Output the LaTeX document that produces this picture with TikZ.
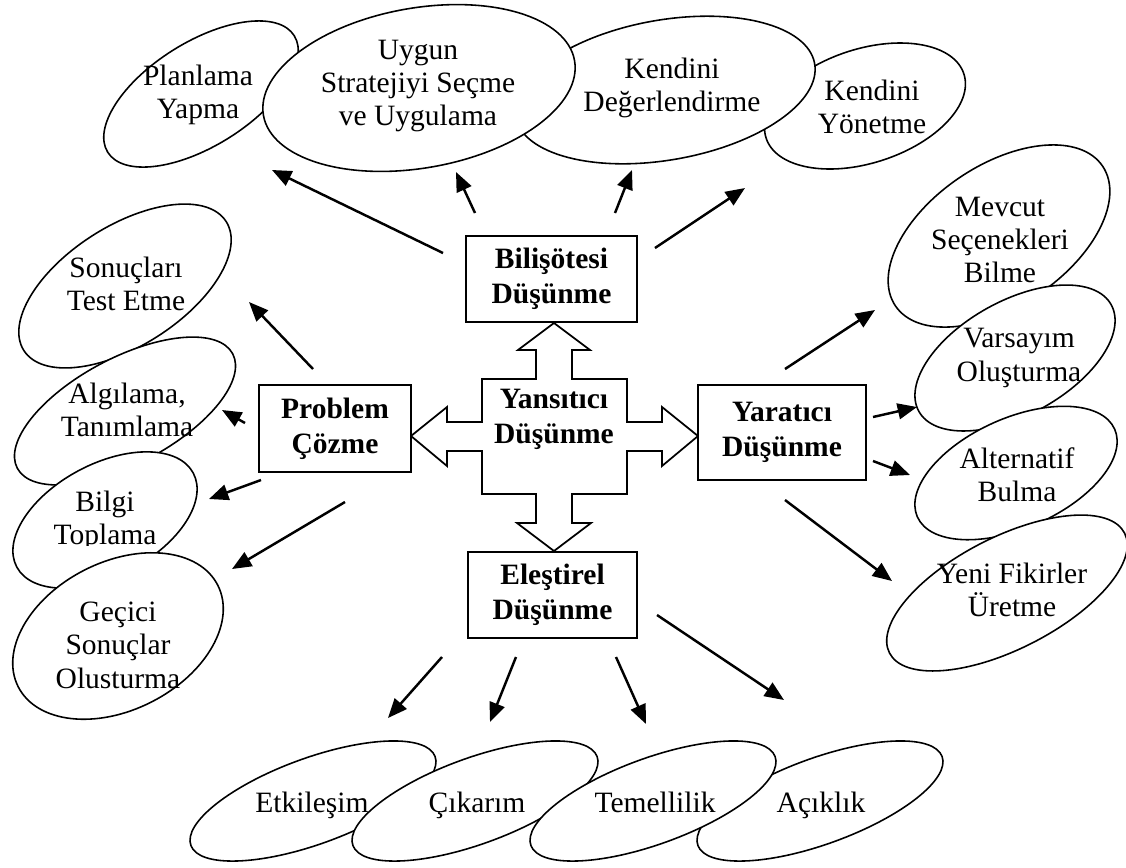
\documentclass[tikz,border=0pt]{standalone}
\usepackage{fontspec}
\setmainfont{Liberation Serif}
\usetikzlibrary{arrows.meta,shapes.geometric}
% #1 text options, #2 name, #3 centre, #4 a, #5 b, #6 angle, #7 text position, #8 text
\newcommand\myoval[8][]{%
  \node[oval, minimum width=#4*0.04cm, minimum height=#5*0.04cm, rotate=#6] (#2) at (#3) {};
  \node[otext,#1] (#2t) at (#7) {#8};
}
\begin{document}
\begin{tikzpicture}[x=0.02cm,y=-0.02cm,
  oval/.style={ellipse, draw, fill=white, line width=0.9pt, inner sep=0pt, outer sep=0pt},
  otext/.style={align=center, inner sep=0pt, font=\fontsize{16.8}{19}\selectfont},
  box/.style={draw, line width=1pt, fill=white, align=center, inner sep=0pt,
    font=\fontsize{16.8}{19.9}\selectfont\bfseries},
  arr/.style={line width=1.4pt, -{Triangle[length=11pt,width=9pt]}},
  cross/.style={draw, line width=1pt, fill=white, line join=miter}
]
\useasboundingbox (0,0) rectangle (1126,867);

% ---- top row ----
\myoval{plan}{201,94}{110}{52}{32}{198,95}{Planlama\\Yapma}
\myoval{yon}{865,106}{104}{57}{18}{872,107}{Kendini\\Yönetme}
\myoval{deg}{665,90}{152}{70}{10}{672,88}{Kendini\\Değerlendirme}
\myoval{uyg}{419,88}{158}{80}{10}{418,86}{Uygun\\Stratejiyi Seçme\\ve Uygulama}

% ---- left column ----
\myoval{son}{125,286}{120}{60}{32.5}{126,284}{Sonuçları\\Test Etme}
\myoval{alg}{125,411}{122}{53}{28}{127,410}{Algılama,\\Tanımlama}
\node[oval, minimum width=100*0.04cm, minimum height=56*0.04cm, rotate=28] (bil) at (105,520) {};
\begin{scope}
  \clip (0,400) rectangle (300,545);
  \node[otext] (bilt) at (105,521) {Bilgi\\Toplama};
\end{scope}
\myoval{gec}{118,636}{112}{74}{27}{118,645}{Geçici\\Sonuçlar\\Olusturma}

% ---- right column ----
\myoval{mev}{999,236}{125}{70.5}{34}{1000,240}{Mevcut\\Seçenekleri\\Bilme}
\myoval{var}{1015,358}{110}{57}{29}{1019,358}{Varsayım\\Oluşturma}
\myoval{alt}{1016,473}{108}{55}{24}{1017,475}{Alternatif\\Bulma}
\myoval{yen}{1007,593}{132}{56}{27}{1012,590}{Yeni Fikirler\\Üretme}

% ---- bottom row ----
\myoval[anchor=base]{etk}{313,801}{130}{43}{20}{312,812}{Etkileşim}
\myoval[anchor=base]{cik}{475,801}{130}{43}{20}{477,812}{Çıkarım}
\myoval[anchor=base]{acik}{820,801}{130}{43}{20}{821,812}{Açıklık}
\myoval[anchor=base]{tem}{653,801}{130}{43}{20}{655,812}{Temellilik}

% ---- central cross ----
\draw[cross] (554,323) -- (590,350) -- (572,350) -- (572,379) -- (627,379) -- (627,422)
  -- (662,422) -- (662,407) -- (698,436) -- (662,466) -- (662,451) -- (627,451)
  -- (627,494) -- (572,494) -- (572,523) -- (591,523) -- (554,551) -- (517,523)
  -- (536,523) -- (536,494) -- (482,494) -- (482,451) -- (447,451) -- (447,466)
  -- (411,436) -- (447,407) -- (447,422) -- (482,422) -- (482,379) -- (536,379)
  -- (536,350) -- (518,350) -- cycle;
\node[box, draw=none, fill=none] (yans) at (554,419) {Yansıtıcı\\Düşünme};

% ---- boxes ----
\node[box, minimum width=171*0.02cm, minimum height=86*0.02cm] (bili) at (551.5,279) {Bilişötesi\\Düşünme};
\node[box, minimum width=152*0.02cm, minimum height=87*0.02cm] (prob) at (335,428.5) {Problem\\Çözme};
\node[box, minimum width=168*0.02cm, minimum height=95*0.02cm] (yar) at (782,432.5) {Yaratıcı\\Düşünme};
\node[box, minimum width=169*0.02cm, minimum height=86*0.02cm] (eles) at (552.5,595) {Eleştirel\\Düşünme};

% ---- arrow end points ----
\coordinate (b1) at (443,253); \coordinate (e1) at (272,170);
\coordinate (b2) at (475,213); \coordinate (e2) at (456,172);
\coordinate (b3) at (615,213); \coordinate (e3) at (632,170);
\coordinate (b4) at (655,248); \coordinate (e4) at (745,188);
\coordinate (p1) at (313,369); \coordinate (q1) at (249,302);
\coordinate (p2) at (245,423); \coordinate (q2) at (222,410);
\coordinate (p3) at (261,480); \coordinate (q3) at (209,499);
\coordinate (p4) at (345,502); \coordinate (q4) at (232,569);
\coordinate (y1) at (785,369); \coordinate (z1) at (875,310);
\coordinate (y2) at (873,417); \coordinate (z2) at (917,407);
\coordinate (y3) at (873,461); \coordinate (z3) at (910,475);
\coordinate (y4) at (785,500); \coordinate (z4) at (892,581);
\coordinate (c1) at (442,657); \coordinate (d1) at (388,718);
\coordinate (c2) at (516,657); \coordinate (d2) at (490,722);
\coordinate (c3) at (616,657); \coordinate (d3) at (646,724);
\coordinate (c4) at (657,615); \coordinate (d4) at (784,700);

\foreach \s/\t in {b1/e1,b2/e2,b3/e3,b4/e4,p1/q1,p2/q2,p3/q3,p4/q4,
                   y1/z1,y2/z2,y3/z3,y4/z4,c1/d1,c2/d2,c3/d3,c4/d4}
  \draw[arr] (\s) -- (\t);
\end{tikzpicture}
\end{document}
